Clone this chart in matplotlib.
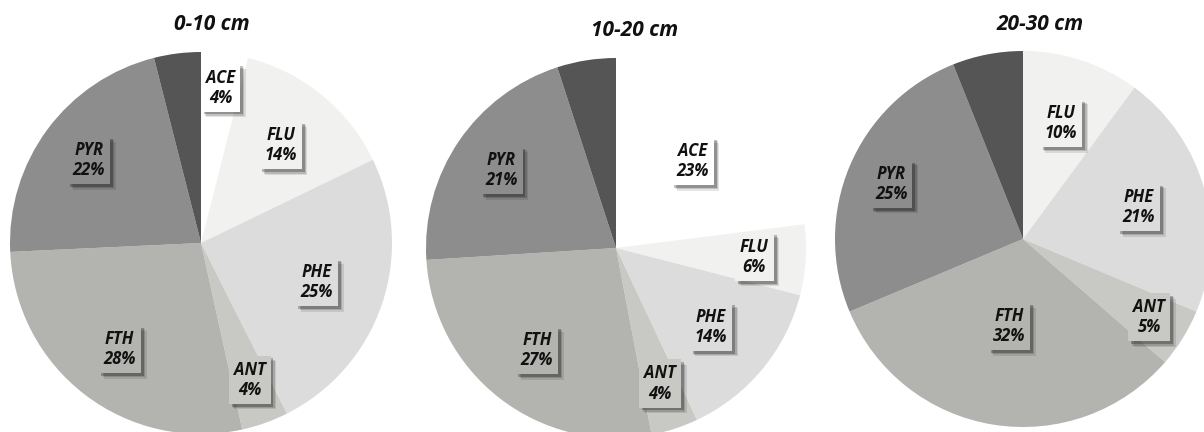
import matplotlib
matplotlib.use("Agg")
import matplotlib.pyplot as plt
import matplotlib.patheffects as pe
import numpy as np

# PAH composition by soil depth (%)
depths = ["0-10 cm", "10-20 cm", "20-30 cm"]
compounds = ["ACE", "FLU", "PHE", "ANT", "FTH", "PYR", ""]   # last slice is unlabeled
pct_0_10 = [4, 14, 25, 4, 28, 22, 4]
pct_10_20 = [23, 6, 14, 4, 27, 21, 5]
pct_20_30 = [0, 10, 21, 5, 32, 25, 6]

colors = ["#ffffff", "#f1f1ef", "#dcdcdc", "#c8c8c4", "#b3b3b0", "#8d8d8d", "#555555"]

# layout (pixel units, y up)
centers = [(201, 189), (616, 184), (1023, 193)]
radii = [191, 190, 188]
title_pos = [(212, 407), (635, 401), (1040, 407)]
label_r = [
    [0.82, 0.66, 0.64, 0.76, 0.70, 0.73, 0],
    [0.61, 0.73, 0.65, 0.75, 0.68, 0.73, 0],
    [0.60, 0.65, 0.64, 0.79, 0.47, 0.76, 0],
]

FONT = ["Open Sans", "DejaVu Sans"]

fig = plt.figure(figsize=(12.04, 4.32), dpi=100)
ax = fig.add_axes([0, 0, 1, 1])

for i, vals in enumerate([pct_0_10, pct_10_20, pct_20_30]):
    cx, cy = centers[i]
    R = radii[i]
    wedges, _ = ax.pie(vals, colors=colors, startangle=90, counterclock=False,
                       center=(cx, cy), radius=R, wedgeprops=dict(linewidth=0))
    for j, w in enumerate(wedges):
        if not compounds[j] or vals[j] == 0:
            continue
        mid = np.deg2rad((w.theta1 + w.theta2) / 2)
        r = label_r[i][j] * R
        t = ax.text(cx + r * np.cos(mid), cy + r * np.sin(mid),
                    f"{compounds[j]}\n{vals[j]}%",
                    ha="center", va="center", fontsize=12, fontweight="bold",
                    fontstyle="italic", family=FONT, color="#111111", linespacing=1.15,
                    bbox=dict(boxstyle="square,pad=0.3", fc=colors[j], ec="none"))
        # soft drop shadow under the label box
        t.get_bbox_patch().set_path_effects([
            pe.SimplePatchShadow(offset=(4, -4), shadow_rgbFace="k", alpha=0.1),
            pe.SimplePatchShadow(offset=(3, -3), shadow_rgbFace="k", alpha=0.15),
            pe.SimplePatchShadow(offset=(2, -2), shadow_rgbFace="k", alpha=0.25),
            pe.Normal()])
    ax.text(*title_pos[i], depths[i], ha="center", va="center", fontsize=15,
            fontweight="bold", fontstyle="italic", family=FONT, color="#111111")

ax.set_xlim(0, 1204)
ax.set_ylim(0, 432)
ax.set_aspect("equal")
ax.set_axis_off()

fig.savefig("out.png", dpi=100)
